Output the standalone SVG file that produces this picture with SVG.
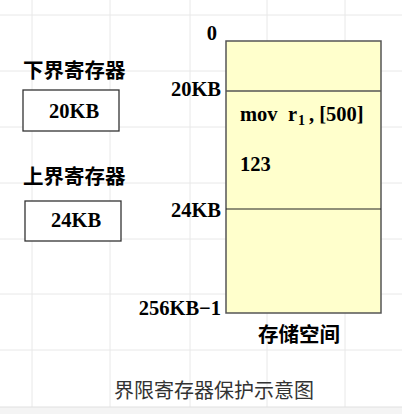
<svg xmlns="http://www.w3.org/2000/svg" width="402" height="414" viewBox="0 0 402 414">
<style>
.grid line{stroke:#e8e8e8;stroke-width:1}
.t{font-family:"Liberation Serif","Noto Sans CJK SC",serif;font-weight:bold;font-size:20.5px;fill:#000}
.cj{font-family:"Noto Sans CJK SC",sans-serif;font-weight:bold;font-size:20.5px;fill:#000}
.cap{font-family:"Liberation Serif","Noto Sans CJK SC",serif;font-size:20px;fill:#333}
.reg{fill:#fff;stroke:#333;stroke-width:1.3}
.mem{fill:#ffffcc;stroke:#555;stroke-width:1.5}
</style>
<rect width="402" height="414" fill="#fff"/>
<g class="grid">
<line x1="32" y1="0" x2="32" y2="407"/>
<line x1="110" y1="0" x2="110" y2="407"/>
<line x1="190" y1="0" x2="190" y2="407"/>
<line x1="267" y1="0" x2="267" y2="407"/>
<line x1="345" y1="0" x2="345" y2="407"/>
<line x1="0" y1="15" x2="402" y2="15"/>
<line x1="0" y1="71" x2="402" y2="71"/>
<line x1="0" y1="127" x2="402" y2="127"/>
<line x1="0" y1="183" x2="402" y2="183"/>
<line x1="0" y1="239" x2="402" y2="239"/>
<line x1="0" y1="294" x2="402" y2="294"/>
<line x1="0" y1="350" x2="402" y2="350"/>
</g>
<rect x="0" y="407" width="402" height="7" fill="#f4f4f4"/>
<line x1="0" y1="407" x2="402" y2="407" stroke="#e0e0e0"/>
<g id="lower-register">
<text class="cj" x="23" y="78">下界寄存器</text>
<rect class="reg" x="23" y="90" width="96" height="41"/>
<text class="t" x="49" y="118">20KB</text>
</g>
<g id="upper-register">
<text class="cj" x="23" y="184">上界寄存器</text>
<rect class="reg" x="25" y="201" width="96" height="40"/>
<text class="t" x="51" y="227">24KB</text>
</g>
<g id="memory">
<rect class="mem" x="226" y="41" width="155" height="272"/>
<line x1="226" y1="91" x2="381" y2="91" stroke="#555" stroke-width="1.3"/>
<line x1="226" y1="209" x2="381" y2="209" stroke="#222" stroke-width="1.2"/>
<text class="t" x="217" y="40" text-anchor="end">0</text>
<text class="t" x="221" y="96" text-anchor="end">20KB</text>
<text class="t" x="221" y="217" text-anchor="end">24KB</text>
<text class="t" x="221" y="315" text-anchor="end">256KB−1</text>
<text class="t" x="240" y="121">mov<tspan x="288">r</tspan><tspan x="298" y="125" font-size="14">1</tspan><tspan x="309" y="121">, [500]</tspan></text>
<text class="t" x="240" y="171">123</text>
<text class="cj" x="258" y="342">存储空间</text>
</g>
<text class="cap" x="114" y="398">界限寄存器保护示意图</text>
</svg>
